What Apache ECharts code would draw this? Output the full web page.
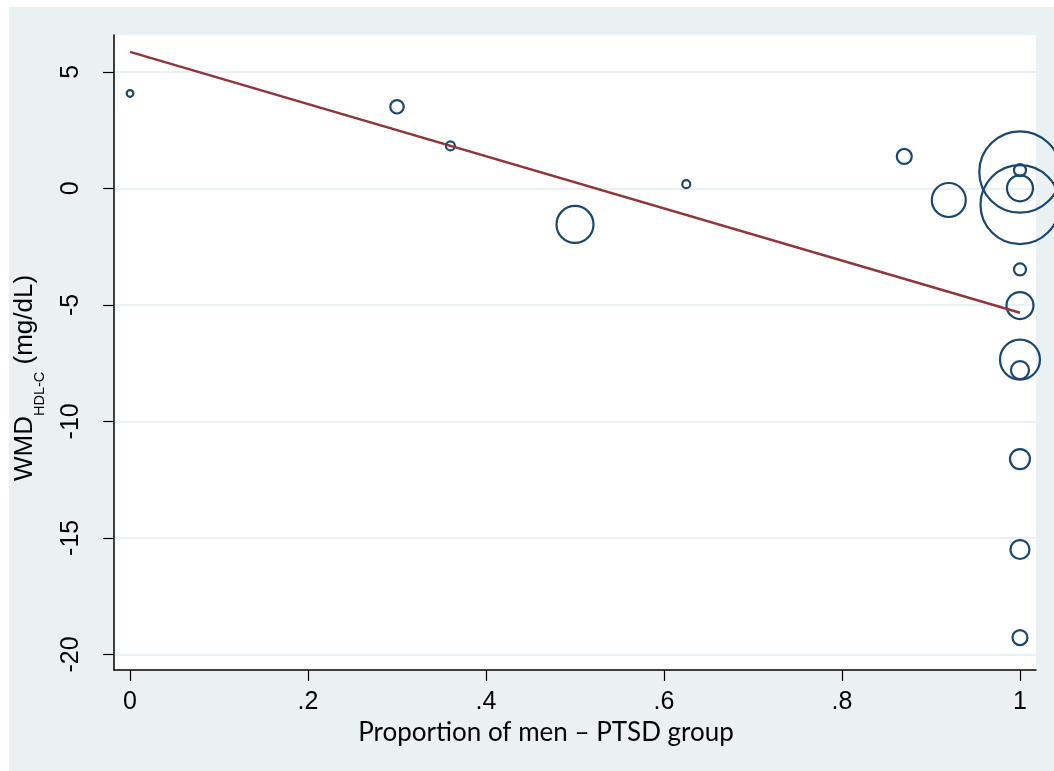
<!DOCTYPE html>
<html>
<head>
<meta charset="utf-8">
<script src="https://cdn.jsdelivr.net/npm/echarts@6/dist/echarts.min.js"></script>
<style>
  html, body { margin: 0; padding: 0; background: #ffffff; }
  #chart { width: 1054px; height: 771px; }
</style>
</head>
<body>
<div id="chart"></div>
<script>
// Meta-regression of HDL-C weighted mean difference on the proportion of men
const propMen = [0, 0.30, 0.36, 0.50, 0.625, 0.87, 0.92, 1, 1, 1, 1, 1, 1, 1, 1, 1, 1, 1];
const wmdHdl = [4.07, 3.5, 1.82, -1.55, 0.18, 1.37, -0.5, 0.7, -0.7, 0.78, 0.0, -3.48, -5.03, -7.35, -7.8, -11.62, -15.5, -19.28];
const studyWeight = [11, 45, 20, 342, 16, 56, 289, 1656, 1560, 36, 169, 36, 182, 400, 81, 100, 90, 56];
const fitLine = [[0, 5.86], [1, -5.34]];
const xTicks = [0, 0.2, 0.4, 0.6, 0.8, 1];
const yTicks = [-20, -15, -10, -5, 0, 5];

const bubbles = propMen.map((x, i) => [x, wmdHdl[i], studyWeight[i]]);

function fmtX(v) {
  if (v === 0 || v === 1) return String(v);
  return String(+v.toFixed(2)).replace(/^0/, '');
}

// width of a text run, used to lay out the subscripted axis title
const measureCtx = document.createElement('canvas').getContext('2d');
function textWidth(str, font) {
  measureCtx.font = font;
  return measureCtx.measureText(str).width;
}
const mainFont = '26px "Liberation Sans"';
const subFont = '14.5px "Liberation Sans"';
const wMain1 = textWidth('WMD', mainFont);
const wSub = textWidth('HDL-C', subFont);

const chart = echarts.init(document.getElementById('chart'));
chart.setOption({
  backgroundColor: '#ffffff',
  animation: false,
  graphic: [
    {
      type: 'rect', z: -10, silent: true,
      shape: { x: 9, y: 7, width: 1045, height: 764 },
      style: { fill: '#eaf1f3' }
    },
    {
      type: 'group', x: 0, y: 481, rotation: Math.PI / 2,
      children: [
        { type: 'text', x: 0, y: 25, style: { text: 'WMD', font: mainFont, fill: '#000', verticalAlign: 'middle', align: 'left' } },
        { type: 'text', x: wMain1, y: 40, style: { text: 'HDL-C', font: subFont, fill: '#000', verticalAlign: 'middle', align: 'left' } },
        { type: 'text', x: wMain1 + wSub, y: 25, style: { text: ' (mg/dL)', font: mainFont, fill: '#000', verticalAlign: 'middle', align: 'left' } }
      ]
    }
  ],
  grid: {
    left: 114, right: 18, top: 35, bottom: 101,
    show: true, backgroundColor: '#ffffff', borderWidth: 0
  },
  xAxis: {
    type: 'value',
    min: -0.018, max: 1.018,
    name: 'Proportion of men \u2013 PTSD group',
    nameLocation: 'middle',
    nameGap: 50,
    nameTextStyle: { fontFamily: 'Lato', fontSize: 26, color: '#000', padding: [0, 58, 0, 0] },
    axisLine: { show: true, onZero: false, lineStyle: { color: '#000', width: 1.5 } },
    axisTick: { show: true, length: 11, customValues: xTicks, lineStyle: { color: '#000', width: 1.2 } },
    axisLabel: { customValues: xTicks, formatter: fmtX, fontFamily: 'Liberation Sans', fontSize: 25, color: '#000', margin: 20 },
    splitLine: { show: false }
  },
  yAxis: {
    type: 'value',
    min: -20.67, max: 6.58,
    axisLine: { show: true, onZero: false, lineStyle: { color: '#000', width: 1.5 } },
    axisTick: { show: true, length: 11, customValues: yTicks, lineStyle: { color: '#000', width: 1.2 } },
    axisLabel: { customValues: yTicks, rotate: 90, fontFamily: 'Liberation Sans', fontSize: 25, color: '#000', margin: 30 },
    splitLine: { show: true, lineStyle: { color: '#eaf1f3', width: 2 } }
  },
  series: [
    {
      type: 'scatter',
      data: bubbles,
      clip: false,
      symbol: 'circle',
      symbolSize: d => 2 * Math.sqrt(d[2]),
      itemStyle: { color: 'transparent', borderColor: '#1a476f', borderWidth: 2.2, opacity: 1 },
      emphasis: { disabled: true },
      z: 3
    },
    {
      type: 'line',
      data: fitLine,
      showSymbol: false,
      lineStyle: { color: '#90353b', width: 2.4 },
      emphasis: { disabled: true },
      z: 4
    }
  ]
});
</script>
</body>
</html>
